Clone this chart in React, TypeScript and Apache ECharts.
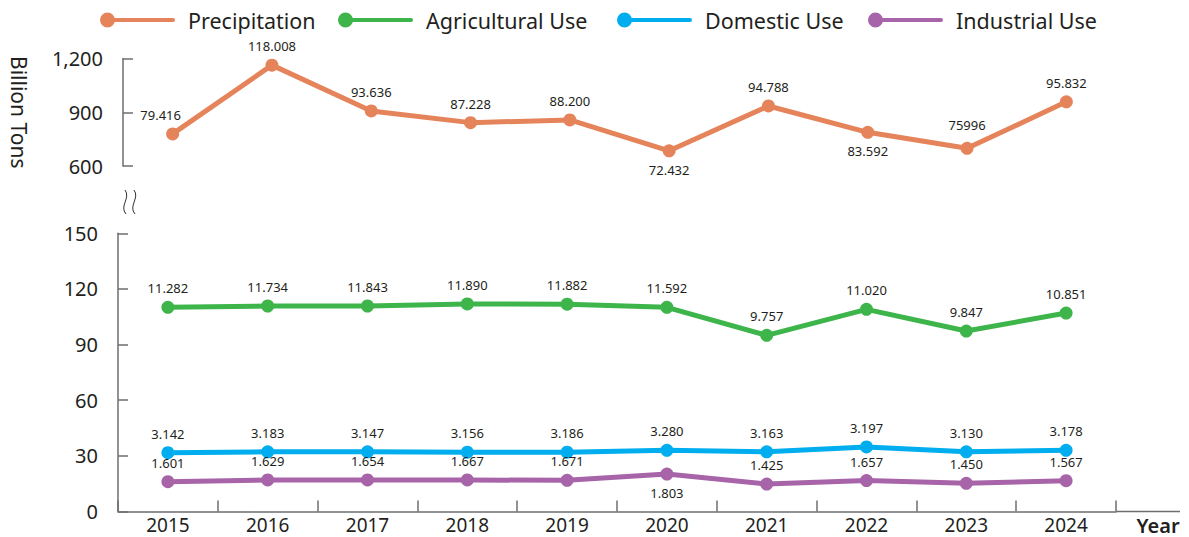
import React, { useEffect, useRef } from "react";
import * as echarts from "echarts";

const years = ["2015", "2016", "2017", "2018", "2019", "2020", "2021", "2022", "2023", "2024"];

const precipitation = [779, 1163, 907, 842, 857, 685, 935, 788, 699, 958];
const precipitationLabels = ["79.416", "118.008", "93.636", "87.228", "88.200", "72.432", "94.788", "83.592", "75996", "95.832"];

const agricultural = [110.1, 110.8, 110.8, 111.9, 111.8, 110.1, 95, 109, 97.3, 107];
const agriculturalLabels = ["11.282", "11.734", "11.843", "11.890", "11.882", "11.592", "9.757", "11.020", "9.847", "10.851"];

const domestic = [31.7, 32.2, 32.2, 32, 32, 33, 32.2, 34.8, 32.2, 33];
const domesticLabels = ["3.142", "3.183", "3.147", "3.156", "3.186", "3.280", "3.163", "3.197", "3.130", "3.178"];

const industrial = [16.1, 17, 17, 17, 16.8, 20.2, 14.8, 16.7, 15.2, 16.6];
const industrialLabels = ["1.601", "1.629", "1.654", "1.667", "1.671", "1.803", "1.425", "1.657", "1.450", "1.567"];

const topTicks = { min: 600, max: 1200, interval: 300 };
const bottomTicks = { min: 0, max: 150, interval: 30 };

const FONT = "Noto Sans";
const TEXT = "#231f20";
const AXIS = "#6d6e71";

const COLORS = {
  Precipitation: "#e5845a",
  "Agricultural Use": "#3db54a",
  "Domestic Use": "#00aeef",
  "Industrial Use": "#a864a8",
};

const ICON =
  "path://M0,7.5 A7.5,7.5 0 1,1 15,7.5 A7.5,7.5 0 1,1 0,7.5 Z M14.5,5.5 L73,5.5 A2,2 0 0,1 73,9.5 L14.5,9.5 Z";

function buildData(values: number[], labels: string[], below: number[], extra?: Record<number, any>) {
  return values.map((v, i) => ({
    value: v,
    label: {
      formatter: labels[i],
      position: below.includes(i) ? "bottom" : "top",
      ...(extra && extra[i] ? extra[i] : {}),
    },
  }));
}

export default function App() {
  const ref = useRef<HTMLDivElement>(null);
  useEffect(() => {
    if (!ref.current) return;
    const chart = echarts.init(ref.current, null, { renderer: "svg" });

    const lineSeries = (name: string, data: any[], idx: number) => ({
      name,
      type: "line",
      xAxisIndex: idx,
      yAxisIndex: idx,
      data,
      symbol: "circle",
      symbolSize: 13,
      color: (COLORS as any)[name],
      lineStyle: { width: 5, color: (COLORS as any)[name] },
      itemStyle: { color: (COLORS as any)[name] },
      label: {
        show: true,
        distance: 6,
        fontFamily: FONT,
        fontSize: 13,
        color: TEXT,
      },
      emphasis: { disabled: true },
    });

    const legendPos: [string, number][] = [
      ["Precipitation", 95],
      ["Agricultural Use", 333],
      ["Domestic Use", 612],
      ["Industrial Use", 863],
    ];

    const yLabel = {
      fontFamily: FONT,
      fontSize: 20,
      color: TEXT,
      margin: 20,
      padding: [10, 0, 0, 0],
    };

    chart.setOption({
      animation: false,
      backgroundColor: "#ffffff",
      legend: legendPos.map(([name, left]) => ({
        data: [name],
        left,
        top: 4,
        icon: ICON,
        itemWidth: 75,
        itemHeight: 15,
        selectedMode: false,
        textStyle: {
          fontFamily: FONT,
          fontSize: 21.5,
          color: TEXT,
          padding: [0, 0, 0, 8],
        },
      })),
      grid: [
        { left: 118, top: 58.5, width: 998, height: 107.5 },
        { left: 118, top: 233.3, width: 998, height: 278.2 },
      ],
      xAxis: [
        { type: "category", gridIndex: 0, data: years, show: false, boundaryGap: true },
        {
          type: "category",
          gridIndex: 1,
          data: years,
          boundaryGap: true,
          axisLine: { lineStyle: { color: AXIS, width: 1.5 } },
          axisTick: { show: true, inside: true, length: 11, interval: 0, lineStyle: { color: AXIS, width: 1.5 } },
          axisLabel: { fontFamily: FONT, fontSize: 19, lineHeight: 19, color: TEXT, margin: 4, interval: 0 },
          splitLine: { show: false },
        },
      ],
      yAxis: [
        {
          type: "value",
          gridIndex: 0,
          ...topTicks,
          name: "Billion Tons",
          nameLocation: "middle",
          nameRotate: -90,
          nameGap: 94,
          nameTextStyle: { fontFamily: FONT, fontSize: 21, color: TEXT },
          axisLine: { show: true, lineStyle: { color: AXIS, width: 1.5 } },
          axisTick: { show: true, inside: true, length: 10, lineStyle: { color: AXIS, width: 1.5 } },
          axisLabel: { ...yLabel, formatter: (v: number) => v.toLocaleString("en-US") },
          splitLine: { show: false },
        },
        {
          type: "value",
          gridIndex: 1,
          ...bottomTicks,
          axisLine: { show: true, lineStyle: { color: AXIS, width: 1.5 } },
          axisTick: { show: true, inside: true, length: 10, lineStyle: { color: AXIS, width: 1.5 } },
          axisLabel: yLabel,
          splitLine: { show: false },
        },
      ],
      series: [
        lineSeries("Precipitation", buildData(precipitation, precipitationLabels, [5, 7], { 0: { offset: [-12, 0] }, 8: { distance: 10 } }), 0),
        lineSeries("Agricultural Use", buildData(agricultural, agriculturalLabels, []), 1),
        lineSeries("Domestic Use", buildData(domestic, domesticLabels, []), 1),
        lineSeries("Industrial Use", buildData(industrial, industrialLabels, [5]), 1),
      ],
      graphic: [
        {
          type: "line",
          shape: { x1: 1116, y1: 511.5, x2: 1180, y2: 511.5 },
          style: { stroke: AXIS, lineWidth: 1.5 },
          silent: true,
        },
        {
          type: "text",
          x: 1158,
          y: 525,
          style: {
            text: "Year",
            fontFamily: FONT,
            fontSize: 20,
            fontWeight: 600,
            fill: TEXT,
            align: "center",
            verticalAlign: "middle",
          },
          silent: true,
        },
        {
          type: "bezierCurve",
          shape: { x1: 125, y1: 190, cpx1: 131, cpy1: 198, cpx2: 119, cpy2: 206, x2: 126, y2: 214 },
          style: { stroke: "#333", lineWidth: 1, fill: "none" },
          silent: true,
        },
        {
          type: "bezierCurve",
          shape: { x1: 134, y1: 190, cpx1: 140, cpy1: 198, cpx2: 128, cpy2: 206, x2: 135, y2: 214 },
          style: { stroke: "#333", lineWidth: 1, fill: "none" },
          silent: true,
        },
      ],
    });
    return () => chart.dispose();
  }, []);
  return (
    <div
      ref={ref}
      style={{ position: "fixed", left: 0, top: 0, width: 1189, height: 537, background: "#fff" }}
    />
  );
}
